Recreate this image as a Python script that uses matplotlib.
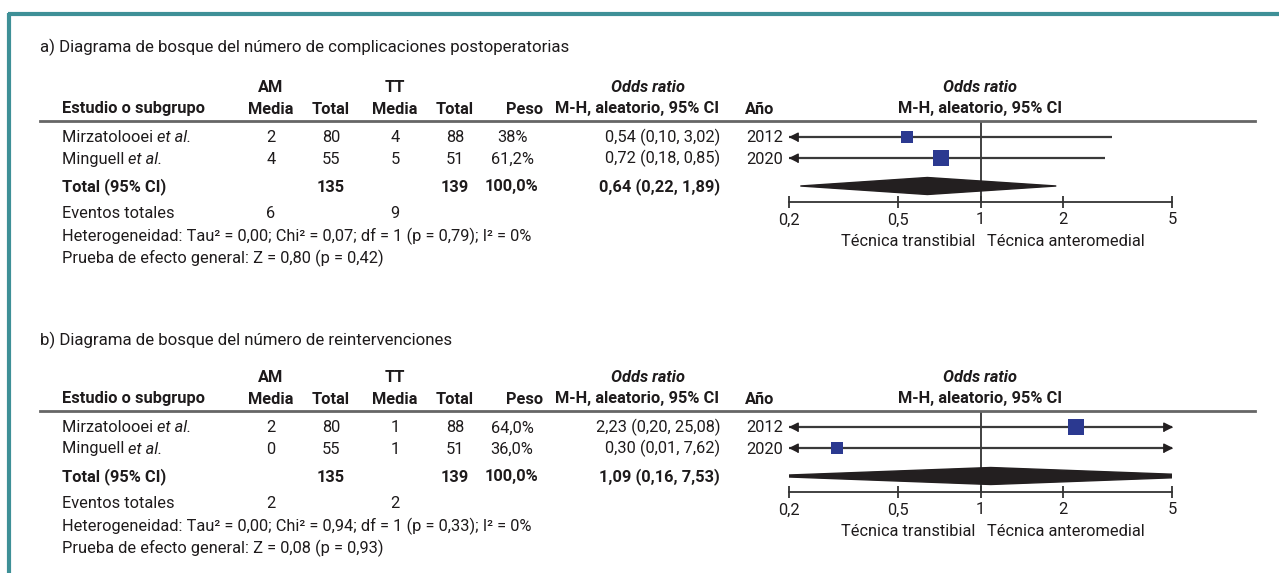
import matplotlib
matplotlib.use('Agg')
import matplotlib.pyplot as plt
import numpy as np
from matplotlib.lines import Line2D
from matplotlib.patches import Polygon

plt.rcParams['font.family'] = ['Roboto', 'DejaVu Sans']

# ---- data -------------------------------------------------------------
studies = ['Mirzatolooei', 'Minguell']
years = ['2012', '2020']

# a) complicaciones postoperatorias
a_am_media = ['2', '4']
a_am_total = ['80', '55']
a_tt_media = ['4', '5']
a_tt_total = ['88', '51']
a_peso = [38.0, 61.2]
a_peso_txt = ['38%', '61,2%']
a_or = [0.54, 0.72]
a_lo = [0.10, 0.18]
a_hi = [3.02, 2.85]          # drawn whisker (as in the picture)
a_or_txt = ['0,54 (0,10, 3,02)', '0,72 (0,18, 0,85)']
a_tot = ['135', '139', '100,0%', '0,64 (0,22, 1,89)']
a_diamond = [0.22, 0.64, 1.89]
a_events = ['6', '9']
a_het = 'Heterogeneidad: Tau² = 0,00; Chi² = 0,07; df = 1 (p = 0,79); I² = 0%'
a_z = 'Prueba de efecto general: Z = 0,80 (p = 0,42)'

# b) reintervenciones
b_am_media = ['2', '0']
b_am_total = ['80', '55']
b_tt_media = ['1', '1']
b_tt_total = ['88', '51']
b_peso = [64.0, 36.0]
b_peso_txt = ['64,0%', '36,0%']
b_or = [2.23, 0.30]
b_lo = [0.20, 0.01]
b_hi = [25.08, 7.62]
b_or_txt = ['2,23 (0,20, 25,08)', '0,30 (0,01, 7,62)']
b_tot = ['135', '139', '100,0%', '1,09 (0,16, 7,53)']
b_diamond = [0.16, 1.09, 7.53]
b_events = ['2', '2']
b_het = 'Heterogeneidad: Tau² = 0,00; Chi² = 0,94; df = 1 (p = 0,33); I² = 0%'
b_z = 'Prueba de efecto general: Z = 0,08 (p = 0,93)'

ticks = [0.2, 0.5, 1, 2, 5]
tick_labels = ['0,2', '0,5', '1', '2', '5']

# ---- figure -----------------------------------------------------------
W, H = 1279, 573
fig = plt.figure(figsize=(W / 100, H / 100), dpi=100)
TXT = '#1e1b1c'
FS = 11.8
rend = fig.canvas.get_renderer()


def fx(x):
    return x / W


def fy(y):
    return 1 - y / H


def txt(x, y, s, ha='center', **kw):
    # y is the visual middle of the capitals; draw on the baseline
    kw.setdefault('color', TXT)
    kw.setdefault('fontsize', FS)
    return fig.text(fx(x), fy(y + 5.5), s, ha=ha, va='baseline', **kw)


def hline(x0, x1, y, **kw):
    fig.add_artist(Line2D([fx(x0), fx(x1)], [fy(y), fy(y)], transform=fig.transFigure, **kw))


# teal frame
teal = '#3e9097'
hline(8, W, 14, color=teal, lw=3, solid_capstyle='butt')
fig.add_artist(Line2D([fx(9), fx(9)], [fy(13), fy(H)], transform=fig.transFigure,
                      color=teal, lw=3, solid_capstyle='butt'))

# arrow heads with the tip at the marker origin
left_head = [(0, 0), (1, 0.5), (1, -0.5)]
right_head = [(0, 0), (-1, 0.5), (-1, -0.5)]


def panel(top, title_y, title, am_m, am_t, tt_m, tt_t, peso, peso_txt, orr, lo, hi,
          or_txt, tot, diamond, events, het, z, dh):
    # top = y of the header rule
    txt(40, title_y, title, ha='left', fontsize=12.2)
    txt(271, top - 35, 'AM', weight='bold')
    txt(395, top - 35, 'TT', weight='bold')
    txt(648, top - 35, 'Odds ratio', weight='bold', style='italic')
    txt(980, top - 35, 'Odds ratio', weight='bold', style='italic')
    y2 = top - 13
    txt(62, y2, 'Estudio o subgrupo', ha='left', weight='bold')
    for x, s in [(271, 'Media'), (331, 'Total'), (395, 'Media'), (455, 'Total'),
                 (525, 'Peso'), (637, 'M-H, aleatorio, 95% CI'), (760, 'Año'),
                 (980, 'M-H, aleatorio, 95% CI')]:
        txt(x, y2, s, weight='bold')
    hline(40, 1255, top, color='#666666', lw=2)

    rows = [top + 16, top + 37]
    for i, y in enumerate(rows):
        t = txt(62, y, studies[i] + ' ', ha='left')
        bb = t.get_window_extent(rend)
        txt(bb.x1, y, 'et al.', ha='left', style='italic')
        txt(271, y, am_m[i])
        txt(331, y, am_t[i])
        txt(395, y, tt_m[i])
        txt(455, y, tt_t[i])
        txt(512, y, peso_txt[i])
        txt(720, y, or_txt[i], ha='right')
        txt(746, y, years[i], ha='left')
    yt = top + 65
    txt(62, yt, 'Total (95% CI)', ha='left', weight='bold')
    txt(331, yt, tot[0], weight='bold')
    txt(455, yt, tot[1], weight='bold')
    txt(512, yt, tot[2], weight='bold')
    txt(720, yt, tot[3], ha='right', weight='bold')
    ye = top + 92
    txt(62, ye, 'Eventos totales', ha='left')
    txt(271, ye, events[0])
    txt(395, ye, events[1])
    txt(62, top + 115, het, ha='left')
    txt(62, top + 137, z, ha='left')

    # forest axis
    yaxis = top + 81
    ax = fig.add_axes([fx(789), fy(yaxis), fx(1172) - fx(789), (yaxis - top) / H])
    ax.set_xscale('log')
    ax.set_xlim(0.2, 5)
    ax.set_ylim(yaxis, top)
    for s in ['top', 'left', 'right']:
        ax.spines[s].set_visible(False)
    ax.spines['bottom'].set_color('#333333')
    ax.spines['bottom'].set_linewidth(1.3)
    ax.set_yticks([])
    ax.set_xticks(ticks)
    ax.set_xticklabels(tick_labels, fontsize=FS, color=TXT)
    ax.minorticks_off()
    ax.tick_params(axis='x', direction='inout', length=9, width=1.3, color='#333333', pad=3)
    ax.patch.set_alpha(0)
    ax.axvline(1, color='#333333', lw=1.3, zorder=1)

    for i, y in enumerate(rows):
        x0 = max(lo[i], 0.2)
        x1 = min(hi[i], 5)
        ax.plot([x0, x1], [y, y], color='#3a3a3a', lw=1.6, zorder=2, solid_capstyle='butt')
        if lo[i] <= 0.2:
            ax.plot(0.2, y, marker=left_head, ms=12.5, color='#231f20', clip_on=False, zorder=3)
        if hi[i] > 5:
            ax.plot(5, y, marker=right_head, ms=12.5, color='#231f20', clip_on=False, zorder=3)
        side = 2 * np.sqrt(peso[i])
        ax.plot(orr[i], y, marker='s', ms=side * 0.72, color='#2b3990', mew=0, zorder=4)

    d_lo, d_c, d_hi = diamond
    ax.add_patch(Polygon([(d_lo, yt), (d_c, yt - dh), (d_hi, yt), (d_c, yt + dh)],
                         closed=True, color='#231f20', zorder=3))

    txt(975, top + 119, 'Técnica transtibial', ha='right')
    txt(987, top + 119, 'Técnica anteromedial', ha='left')


panel(121, 47, 'a) Diagrama de bosque del número de complicaciones postoperatorias',
      a_am_media, a_am_total, a_tt_media, a_tt_total, a_peso, a_peso_txt,
      a_or, a_lo, a_hi, a_or_txt, a_tot, a_diamond, a_events, a_het, a_z, 8.5)
panel(411, 340, 'b) Diagrama de bosque del número de reintervenciones',
      b_am_media, b_am_total, b_tt_media, b_tt_total, b_peso, b_peso_txt,
      b_or, b_lo, b_hi, b_or_txt, b_tot, b_diamond, b_events, b_het, b_z, 8.5)

fig.savefig('out.png', dpi=100)
